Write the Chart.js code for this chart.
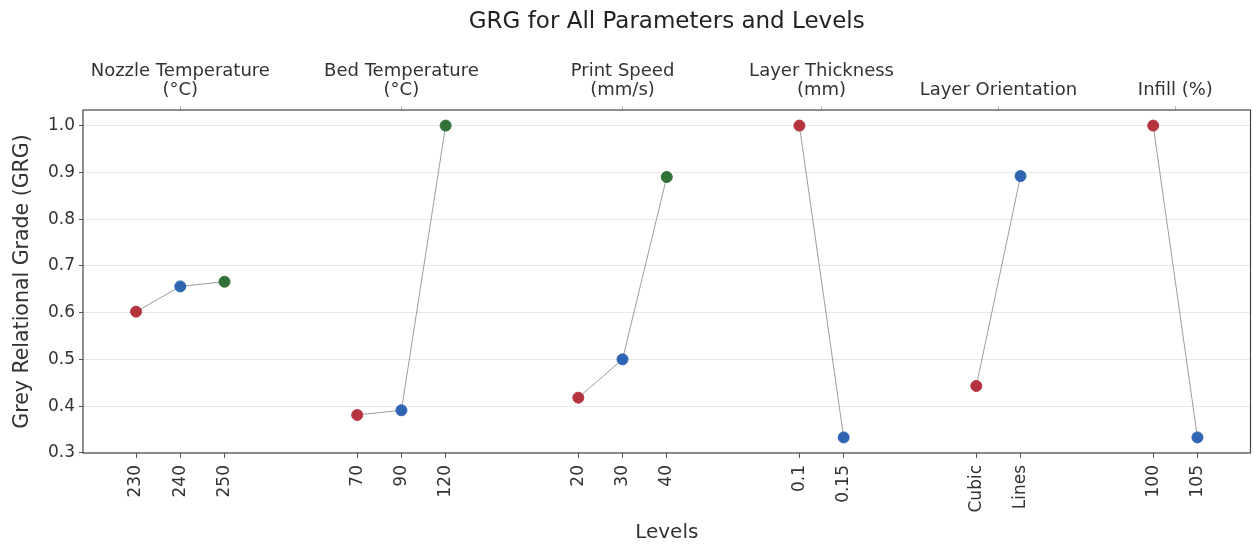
<!DOCTYPE html>
<html>
<head>
<meta charset="utf-8">
<script src="https://cdn.jsdelivr.net/npm/chart.js@4.4.1/dist/chart.umd.min.js"></script>
<style>
  html, body { margin: 0; padding: 0; background: #ffffff; }
  #wrap { width: 1257px; height: 545px; position: relative; }
</style>
</head>
<body>
<div id="wrap"><canvas id="c"></canvas></div>
<script>
// ---- Data ----
const chartTitle = 'GRG for All Parameters and Levels';
const parameterNames = [
  ['Nozzle Temperature', '(°C)'],
  ['Bed Temperature', '(°C)'],
  ['Print Speed', '(mm/s)'],
  ['Layer Thickness', '(mm)'],
  ['Layer Orientation'],
  ['Infill (%)']
];
const levelLabels = [
  ['230', '240', '250'],
  ['70', '90', '120'],
  ['20', '30', '40'],
  ['0.1', '0.15'],
  ['Cubic', 'Lines'],
  ['100', '105']
];
const grgValues = [
  [0.602, 0.656, 0.666],
  [0.381, 0.391, 1.000],
  [0.418, 0.500, 0.890],
  [1.000, 0.333],
  [0.443, 0.892],
  [1.000, 0.333]
];
const yTickValues = [0.3, 0.4, 0.5, 0.6, 0.7, 0.8, 0.9, 1.0];
const levelColors = ['#b5333f', '#2e64b1', '#317039'];

// ---- Layout of positions (category slots with gaps of 2 between groups) ----
const groupGap = 2;
const groupStarts = [];
let cursor = 0;
levelLabels.forEach((lv, g) => { groupStarts.push(cursor); cursor += lv.length + groupGap; });
const bottomTicks = [];
levelLabels.forEach((lv, g) => lv.forEach((lab, j) => bottomTicks.push({ value: groupStarts[g] + j, label: lab })));
const topTicks = parameterNames.map((name, g) => ({ value: groupStarts[g] + (levelLabels[g].length - 1) / 2, label: name }));
const lastPos = bottomTicks[bottomTicks.length - 1].value;
const xMargin = lastPos * 0.05;

const allVals = grgValues.flat();
const yMinData = Math.min(...allVals), yMaxData = Math.max(...allVals);
const yMargin = (yMaxData - yMinData) * 0.05;

const datasets = grgValues.map((vals, g) => ({
  label: parameterNames[g].join(' '),
  data: vals.map((v, j) => ({ x: groupStarts[g] + j, y: v })),
  borderColor: 'rgba(140,140,140,0.85)',
  borderWidth: 1,
  pointBackgroundColor: vals.map((v, j) => levelColors[j]),
  pointBorderColor: vals.map((v, j) => levelColors[j]),
  pointRadius: 5.5,
  pointHoverRadius: 5.5,
  tension: 0,
  xAxisID: 'x',
  yAxisID: 'y'
}));

const font = 'DejaVu Sans';
const titleFontSize = 23;
const titleTop = 8;

const framePlugin = {
  id: 'frame',
  afterDatasetsDraw(chart) {
    const { ctx, chartArea: a } = chart;
    ctx.save();
    ctx.strokeStyle = '#444444';
    ctx.lineWidth = 1.2;
    ctx.strokeRect(a.left, a.top, a.right - a.left, a.bottom - a.top);
    ctx.restore();
  }
};

// Title centred over the plot area (as matplotlib does)
const axesTitlePlugin = {
  id: 'axesTitle',
  afterDraw(chart) {
    const { ctx, chartArea: a } = chart;
    ctx.save();
    ctx.fillStyle = '#222222';
    ctx.font = titleFontSize + 'px "' + font + '"';
    ctx.textAlign = 'center';
    ctx.textBaseline = 'middle';
    ctx.fillText(chartTitle, (a.left + a.right) / 2, titleTop + titleFontSize * 0.6);
    ctx.restore();
  }
};

new Chart(document.getElementById('c'), {
  type: 'line',
  data: { datasets },
  plugins: [framePlugin, axesTitlePlugin],
  options: {
    responsive: true,
    maintainAspectRatio: false,
    animation: false,
    layout: { padding: { left: 0, right: 6, top: 42, bottom: 0 } },
    plugins: {
      legend: { display: false },
      tooltip: { enabled: false },
      title: { display: false }
    },
    scales: {
      x: {
        type: 'linear',
        position: 'bottom',
        min: -xMargin,
        max: lastPos + xMargin,
        afterBuildTicks: (s) => { s.ticks = bottomTicks.map(t => ({ value: t.value })); },
        afterFit: (s) => { s.height = 92; },
        ticks: {
          callback: (v) => { const t = bottomTicks.find(b => b.value === v); return t ? t.label : ''; },
          autoSkip: false,
          maxRotation: 90,
          minRotation: 90,
          color: '#333333',
          padding: 7,
          font: { family: font, size: 17 }
        },
        grid: { drawOnChartArea: false, drawTicks: true, tickLength: 5, tickColor: '#555555' },
        border: { display: false },
        title: {
          display: true,
          text: 'Levels',
          color: '#333333',
          font: { family: font, size: 20 },
          padding: { top: 0, bottom: 0 }
        }
      },
      x2: {
        type: 'linear',
        position: 'top',
        min: -xMargin,
        max: lastPos + xMargin,
        afterBuildTicks: (s) => { s.ticks = topTicks.map(t => ({ value: t.value })); },
        afterFit: (s) => { s.height = 68; },
        ticks: {
          callback: (v) => { const t = topTicks.find(b => Math.abs(b.value - v) < 1e-9); return t ? t.label : ''; },
          autoSkip: false,
          maxRotation: 0,
          minRotation: 0,
          color: '#333333',
          padding: 6,
          font: { family: font, size: 18, lineHeight: 1.05 }
        },
        grid: { drawOnChartArea: false, drawTicks: true, tickLength: 4, tickColor: '#bbbbbb' },
        border: { display: false }
      },
      y: {
        type: 'linear',
        position: 'left',
        min: yMinData - yMargin,
        max: yMaxData + yMargin,
        afterBuildTicks: (s) => { s.ticks = yTickValues.map(v => ({ value: v })); },
        afterFit: (s) => { s.width = 83; },
        ticks: {
          callback: (v) => v.toFixed(1),
          color: '#333333',
          padding: 4,
          font: { family: font, size: 17 }
        },
        grid: { color: '#e8e8e8', lineWidth: 1, drawTicks: true, tickLength: 4, tickColor: '#555555' },
        border: { display: false },
        title: {
          display: true,
          text: 'Grey Relational Grade (GRG)',
          color: '#333333',
          font: { family: font, size: 20.5 },
          padding: { top: 10, bottom: 0 }
        }
      }
    }
  }
});
</script>
</body>
</html>
